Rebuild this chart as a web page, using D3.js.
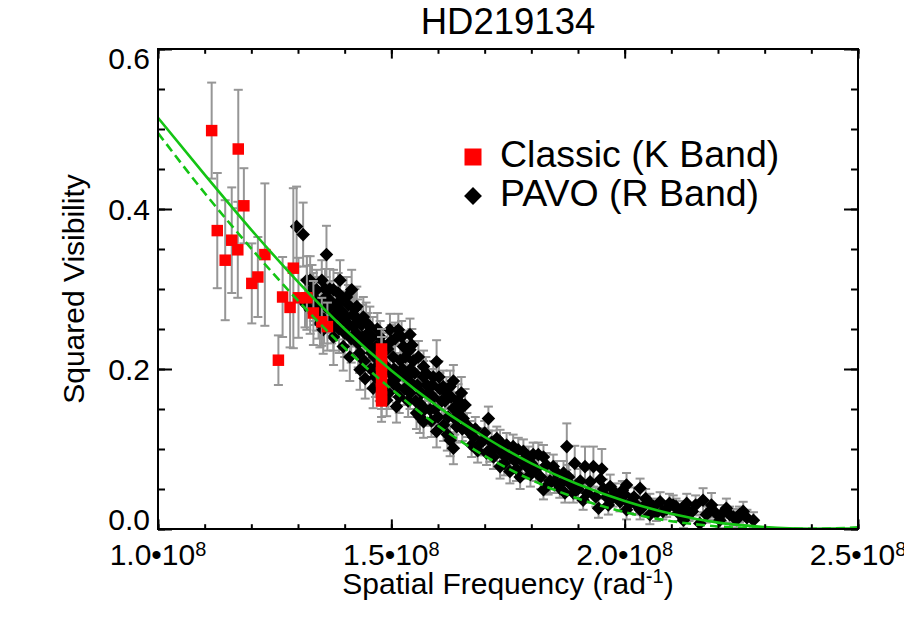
<!DOCTYPE html>
<html><head><meta charset="utf-8">
<script src="https://cdn.jsdelivr.net/npm/d3@7"></script>
<style>
body{margin:0;background:#fff}
svg{display:block}
text{font-family:"Liberation Sans",Arial,Helvetica,sans-serif;fill:#000}
</style>
</head><body>
<svg id="chart" width="904" height="629"></svg>
<script>
// ---------- data ----------
const titleText = "HD219134";
const xLabelMain = "Spatial Frequency (rad";
const xLabelSup = "-1";
const yLabelText = "Squared Visibility";
const xMajorTicks = [1.0, 1.5, 2.0, 2.5];          // units of 1e8 rad^-1
const xTickMantissa = ["1.0•10", "1.5•10", "2.0•10", "2.5•10"];
const xTickExponent = "8";
const yMajorTicks = [0.0, 0.2, 0.4, 0.6];
const yTickLabels = ["0.0", "0.2", "0.4", "0.6"];
const legendNames = ["Classic (K Band)", "PAVO (R Band)"];

// model curves
const modelFreq   = [1.0, 1.1, 1.2, 1.3, 1.4, 1.5, 1.6, 1.7, 1.8, 1.9, 2.0, 2.1, 2.2, 2.3, 2.4, 2.5];
const modelSolid  = [0.514, 0.443, 0.374, 0.309, 0.250, 0.198, 0.153, 0.115, 0.082, 0.056, 0.035, 0.019, 0.008, 0.0025, 0.0004, 0.0006];
const modelDashed = [0.495, 0.420, 0.3505, 0.2854, 0.2263, 0.175, 0.129, 0.0915, 0.0613, 0.038, 0.0211, 0.0098, 0.0032, 0.0003, 0.0002, 0.0020];

// Classic (K band): [freq (1e8), V2, error]
const classicPoints = [
  [1.115,0.498,0.060],[1.127,0.373,0.072],[1.144,0.336,0.075],[1.158,0.361,0.066],
  [1.171,0.349,0.060],[1.172,0.475,0.074],[1.184,0.404,0.047],[1.201,0.307,0.050],
  [1.214,0.315,0.050],[1.229,0.343,0.089],[1.258,0.211,0.031],[1.267,0.290,0.050],
  [1.283,0.277,0.050],[1.290,0.326,0.100],[1.301,0.289,0.050],[1.319,0.289,0.040],
  [1.333,0.270,0.040],[1.351,0.259,0.030],[1.363,0.253,0.030],
  [1.479,0.225,0.025],[1.479,0.215,0.025],[1.479,0.205,0.025],[1.479,0.195,0.025],
  [1.479,0.185,0.025],[1.479,0.175,0.025],[1.479,0.165,0.025],[1.479,0.160,0.026]
];

// PAVO (R band): [freq (1e8), V2, error]
const pavoPoints = [
  [1.297,0.378,0.050],[1.311,0.368,0.040],[1.315,0.282,0.030],[1.319,0.311,0.030],
  [1.326,0.311,0.030],[1.326,0.274,0.030],[1.330,0.300,0.030],[1.333,0.290,0.030],
  [1.336,0.285,0.030],[1.340,0.299,0.025],[1.340,0.278,0.030],[1.344,0.268,0.030],
  [1.347,0.257,0.030],[1.350,0.280,0.030],[1.351,0.311,0.025],[1.354,0.249,0.030],
  [1.356,0.262,0.030],[1.358,0.300,0.025],[1.360,0.290,0.025],[1.361,0.343,0.036],
  [1.364,0.275,0.030],[1.368,0.300,0.025],[1.370,0.285,0.025],[1.372,0.262,0.030],
  [1.376,0.299,0.025],[1.376,0.253,0.030],[1.376,0.240,0.035],[1.380,0.268,0.030],
  [1.383,0.278,0.025],[1.386,0.295,0.025],[1.388,0.250,0.030],[1.390,0.311,0.025],
  [1.390,0.285,0.025],[1.394,0.272,0.025],[1.397,0.228,0.030],[1.397,0.262,0.025],
  [1.400,0.245,0.030],[1.404,0.265,0.025],[1.404,0.290,0.025],[1.408,0.280,0.025],
  [1.410,0.255,0.025],[1.411,0.215,0.030],[1.414,0.238,0.030],[1.415,0.299,0.025],
  [1.418,0.268,0.025],[1.419,0.253,0.025],[1.422,0.275,0.025],[1.424,0.245,0.025],
  [1.426,0.278,0.025],[1.428,0.262,0.025],[1.429,0.232,0.030],[1.432,0.220,0.025],
  [1.433,0.199,0.025],[1.436,0.255,0.025],[1.438,0.240,0.025],[1.440,0.265,0.025],
  [1.442,0.210,0.025],[1.444,0.188,0.025],[1.446,0.258,0.025],[1.447,0.236,0.025],
  [1.450,0.245,0.025],[1.452,0.230,0.025],[1.454,0.253,0.025],[1.456,0.200,0.025],
  [1.458,0.220,0.025],[1.460,0.240,0.025],[1.461,0.176,0.025],[1.464,0.215,0.025],
  [1.466,0.190,0.025],[1.468,0.228,0.025],[1.470,0.250,0.020],[1.472,0.205,0.025],
  [1.474,0.185,0.025],[1.476,0.240,0.020],[1.478,0.215,0.020],[1.483,0.230,0.020],
  [1.486,0.205,0.020],[1.488,0.180,0.020],[1.490,0.161,0.020],[1.492,0.225,0.020],
  [1.494,0.170,0.020],[1.497,0.195,0.020],[1.497,0.249,0.020],[1.500,0.235,0.020],
  [1.502,0.185,0.020],[1.504,0.215,0.020],[1.506,0.200,0.020],[1.508,0.238,0.020],
  [1.511,0.178,0.020],[1.511,0.153,0.020],[1.514,0.190,0.020],[1.515,0.249,0.020],
  [1.517,0.165,0.020],[1.519,0.211,0.020],[1.522,0.240,0.020],[1.524,0.200,0.020],
  [1.526,0.228,0.020],[1.528,0.175,0.020],[1.530,0.215,0.020],[1.533,0.190,0.020],
  [1.536,0.160,0.020],[1.538,0.185,0.020],[1.540,0.243,0.020],[1.540,0.224,0.020],
  [1.540,0.199,0.020],[1.540,0.170,0.020],[1.544,0.230,0.020],[1.547,0.210,0.020],
  [1.550,0.195,0.020],[1.552,0.160,0.020],[1.554,0.145,0.020],[1.556,0.180,0.020],
  [1.558,0.215,0.020],[1.561,0.157,0.020],[1.561,0.140,0.020],[1.565,0.170,0.020],
  [1.569,0.190,0.020],[1.569,0.203,0.020],[1.569,0.134,0.020],[1.572,0.150,0.020],
  [1.574,0.195,0.020],[1.576,0.180,0.020],[1.580,0.170,0.020],[1.583,0.149,0.020],
  [1.586,0.135,0.020],[1.588,0.180,0.020],[1.590,0.165,0.020],[1.590,0.190,0.020],
  [1.594,0.150,0.020],[1.597,0.209,0.027],[1.597,0.122,0.020],[1.600,0.140,0.020],
  [1.602,0.190,0.020],[1.604,0.175,0.020],[1.608,0.160,0.020],[1.611,0.178,0.020],
  [1.612,0.130,0.020],[1.615,0.160,0.020],[1.618,0.170,0.020],[1.620,0.118,0.020],
  [1.622,0.140,0.020],[1.626,0.178,0.020],[1.626,0.111,0.020],[1.628,0.165,0.020],
  [1.633,0.185,0.020],[1.633,0.151,0.020],[1.633,0.101,0.020],[1.636,0.138,0.020],
  [1.640,0.128,0.020],[1.643,0.161,0.020],[1.645,0.148,0.020],[1.650,0.170,0.020],
  [1.652,0.125,0.015],[1.654,0.138,0.015],[1.658,0.155,0.020],[1.662,0.130,0.015],
  [1.669,0.120,0.015],[1.672,0.105,0.015],[1.676,0.115,0.015],[1.680,0.125,0.015],
  [1.685,0.098,0.015],[1.690,0.107,0.015],[1.697,0.111,0.015],[1.700,0.120,0.015],
  [1.704,0.095,0.015],[1.708,0.138,0.015],[1.711,0.099,0.015],[1.715,0.108,0.015],
  [1.719,0.090,0.015],[1.720,0.100,0.015],[1.726,0.113,0.015],[1.733,0.109,0.015],
  [1.733,0.078,0.015],[1.738,0.095,0.015],[1.742,0.082,0.015],[1.745,0.090,0.015],
  [1.747,0.105,0.015],[1.754,0.072,0.015],[1.756,0.092,0.015],[1.761,0.103,0.015],
  [1.765,0.085,0.015],[1.768,0.075,0.015],[1.772,0.099,0.015],[1.776,0.065,0.015],
  [1.780,0.085,0.015],[1.783,0.097,0.015],[1.790,0.078,0.015],[1.794,0.088,0.015],
  [1.798,0.068,0.015],[1.800,0.082,0.015],[1.804,0.093,0.015],[1.810,0.075,0.015],
  [1.815,0.093,0.015],[1.820,0.065,0.015],[1.826,0.090,0.015],[1.826,0.049,0.012],
  [1.832,0.080,0.015],[1.836,0.055,0.012],[1.840,0.060,0.015],[1.847,0.078,0.015],
  [1.850,0.060,0.015],[1.855,0.070,0.015],[1.861,0.051,0.012],[1.865,0.058,0.012],
  [1.869,0.070,0.015],[1.872,0.045,0.012],[1.876,0.103,0.029],[1.880,0.065,0.015],
  [1.885,0.055,0.012],[1.890,0.045,0.012],[1.893,0.082,0.022],[1.900,0.050,0.012],
  [1.905,0.060,0.015],[1.911,0.036,0.012],[1.915,0.078,0.025],[1.920,0.045,0.012],
  [1.926,0.059,0.015],[1.933,0.078,0.025],[1.938,0.040,0.012],[1.944,0.026,0.012],
  [1.948,0.062,0.015],[1.951,0.075,0.025],[1.955,0.050,0.012],[1.961,0.040,0.012],
  [1.965,0.030,0.012],[1.969,0.053,0.015],[1.975,0.040,0.012],[1.980,0.045,0.012],
  [1.990,0.034,0.012],[1.995,0.048,0.012],[2.000,0.043,0.015],[2.004,0.055,0.015],
  [2.004,0.024,0.012],[2.010,0.032,0.012],[2.020,0.040,0.012],[2.025,0.030,0.012],
  [2.033,0.051,0.012],[2.033,0.024,0.012],[2.040,0.028,0.012],[2.045,0.038,0.012],
  [2.054,0.032,0.012],[2.054,0.018,0.012],[2.062,0.028,0.010],[2.068,0.020,0.010],
  [2.076,0.034,0.012],[2.082,0.022,0.010],[2.090,0.025,0.010],[2.096,0.032,0.012],
  [2.104,0.030,0.012],[2.110,0.028,0.010],[2.115,0.020,0.010],[2.122,0.025,0.010],
  [2.126,0.011,0.010],[2.133,0.032,0.012],[2.138,0.020,0.010],[2.145,0.022,0.010],
  [2.152,0.030,0.012],[2.161,0.007,0.010],[2.168,0.036,0.015],[2.175,0.018,0.010],
  [2.182,0.022,0.010],[2.186,0.030,0.015],[2.195,0.020,0.010],[2.204,0.011,0.010],
  [2.210,0.020,0.010],[2.218,0.026,0.012],[2.225,0.018,0.010],[2.233,0.015,0.010],
  [2.240,0.012,0.010],[2.246,0.018,0.010],[2.254,0.022,0.012],[2.262,0.014,0.010],
  [2.276,0.011,0.010]
];

// ---------- layout ----------
const plot = {left: 158, right: 858, top: 49, bottom: 529};
const pw = plot.right - plot.left, ph = plot.bottom - plot.top;
const svg = d3.select("#chart");

const x = d3.scaleLinear().domain([1.0, 2.5]).range([plot.left, plot.right]);
const y = d3.scaleLinear().domain([0.0, 0.6]).range([plot.bottom, plot.top]);

const gray = "#969696", green = "#14c414";
const xMinor = d3.range(1.0, 2.5001, 0.1).map(v => +v.toFixed(2));
const yMinor = d3.range(0.0, 0.6001, 0.05).map(v => +v.toFixed(3));
const xTL = 0.02 * ph, yTL = 0.02 * pw;

// ---------- data layers ----------
function errorBars(g, pts, cap) {
  const sel = g.selectAll("g").data(pts).join("g");
  sel.append("line")
    .attr("x1", d => x(d[0])).attr("x2", d => x(d[0]))
    .attr("y1", d => y(d[1] - d[2])).attr("y2", d => y(d[1] + d[2]));
  sel.append("line")
    .attr("x1", d => x(d[0]) - cap).attr("x2", d => x(d[0]) + cap)
    .attr("y1", d => y(d[1] + d[2])).attr("y2", d => y(d[1] + d[2]));
  sel.append("line")
    .attr("x1", d => x(d[0]) - cap).attr("x2", d => x(d[0]) + cap)
    .attr("y1", d => y(d[1] - d[2])).attr("y2", d => y(d[1] - d[2]));
}

svg.append("defs").append("clipPath").attr("id", "pc")
  .append("rect").attr("x", plot.left).attr("y", plot.top).attr("width", pw).attr("height", ph);

const dataG = svg.append("g").attr("clip-path", "url(#pc)");

const pavoErrG = dataG.append("g").attr("stroke", gray).attr("stroke-width", 2);
errorBars(pavoErrG, pavoPoints, 4.5);

const diamond = d3.symbol().type(d3.symbolSquare).size(92);
dataG.append("g").selectAll("path").data(pavoPoints).join("path")
  .attr("d", diamond)
  .attr("transform", d => `translate(${x(d[0])},${y(d[1])}) rotate(45)`)
  .attr("fill", "#000");

const clErrG = dataG.append("g").attr("stroke", gray).attr("stroke-width", 2);
errorBars(clErrG, classicPoints, 4.5);

const square = d3.symbol().type(d3.symbolSquare).size(132);
dataG.append("g").selectAll("path").data(classicPoints).join("path")
  .attr("d", square)
  .attr("transform", d => `translate(${x(d[0])},${y(d[1])})`)
  .attr("fill", "#ff0000");

const line = d3.line().x((d, i) => x(modelFreq[i])).y(d => y(d)).curve(d3.curveMonotoneX);
dataG.append("path").datum(modelDashed).attr("d", line)
  .attr("fill", "none").attr("stroke", green).attr("stroke-width", 2.6)
  .attr("stroke-dasharray", "9,5");
dataG.append("path").datum(modelSolid).attr("d", line)
  .attr("fill", "none").attr("stroke", green).attr("stroke-width", 2.6);

// ---------- axes ----------
function styleAxis(g) {
  g.select(".domain").remove();
  g.selectAll("line").attr("stroke", "#000").attr("stroke-width", 2);
  g.selectAll("text").remove();
}
svg.append("g").attr("transform", `translate(0,${plot.bottom})`)
  .call(d3.axisBottom(x).tickValues(xMinor).tickSize(-xTL / 2).tickSizeOuter(0)).call(styleAxis);
svg.append("g").attr("transform", `translate(0,${plot.bottom})`)
  .call(d3.axisBottom(x).tickValues(xMajorTicks).tickSize(-xTL).tickSizeOuter(0)).call(styleAxis);
svg.append("g").attr("transform", `translate(0,${plot.top})`)
  .call(d3.axisTop(x).tickValues(xMinor).tickSize(-xTL / 2).tickSizeOuter(0)).call(styleAxis);
svg.append("g").attr("transform", `translate(0,${plot.top})`)
  .call(d3.axisTop(x).tickValues(xMajorTicks).tickSize(-xTL).tickSizeOuter(0)).call(styleAxis);
svg.append("g").attr("transform", `translate(${plot.left},0)`)
  .call(d3.axisLeft(y).tickValues(yMinor).tickSize(-yTL / 2).tickSizeOuter(0)).call(styleAxis);
svg.append("g").attr("transform", `translate(${plot.left},0)`)
  .call(d3.axisLeft(y).tickValues(yMajorTicks).tickSize(-yTL).tickSizeOuter(0)).call(styleAxis);
svg.append("g").attr("transform", `translate(${plot.right},0)`)
  .call(d3.axisRight(y).tickValues(yMinor).tickSize(-yTL / 2).tickSizeOuter(0)).call(styleAxis);
svg.append("g").attr("transform", `translate(${plot.right},0)`)
  .call(d3.axisRight(y).tickValues(yMajorTicks).tickSize(-yTL).tickSizeOuter(0)).call(styleAxis);

svg.append("rect").attr("x", plot.left).attr("y", plot.top).attr("width", pw).attr("height", ph)
  .attr("fill", "none").attr("stroke", "#000").attr("stroke-width", 2);

// tick labels
const xt = svg.append("g").selectAll("text").data(xMajorTicks).join("text")
  .attr("x", d => x(d)).attr("y", 565).attr("text-anchor", "middle").attr("font-size", 30);
xt.append("tspan").text((d, i) => xTickMantissa[i]);
xt.append("tspan").attr("font-size", 20).attr("dy", -9).text(xTickExponent);

svg.append("g").selectAll("text").data(yMajorTicks).join("text")
  .attr("x", 150)
  .attr("y", (d, i) => y(d) + (i === 0 ? 1 : (i === yMajorTicks.length - 1 ? 20 : 11)))
  .attr("text-anchor", "end").attr("font-size", 30)
  .text((d, i) => yTickLabels[i]);

// titles
svg.append("text").attr("x", (plot.left + plot.right) / 2).attr("y", 34)
  .attr("text-anchor", "middle").attr("font-size", 36.5).text(titleText);

const xl = svg.append("text").attr("x", (plot.left + plot.right) / 2).attr("y", 594)
  .attr("text-anchor", "middle").attr("font-size", 30);
xl.append("tspan").text(xLabelMain);
xl.append("tspan").attr("font-size", 20).attr("dy", -11).text(xLabelSup);
xl.append("tspan").attr("dy", 11).text(")");

svg.append("text").attr("transform", `translate(84,${(plot.top + plot.bottom) / 2}) rotate(-90)`)
  .attr("text-anchor", "middle").attr("font-size", 30).text(yLabelText);

// legend
const lg = svg.append("g");
lg.append("rect").attr("x", 473 - 8.5).attr("y", 157 - 8.5).attr("width", 17).attr("height", 17).attr("fill", "#ff0000");
lg.append("path").attr("d", d3.symbol().type(d3.symbolSquare).size(160))
  .attr("transform", "translate(473,196) rotate(45)").attr("fill", "#000");
lg.append("text").attr("x", 500).attr("y", 167).attr("font-size", 37.5).text(legendNames[0]);
lg.append("text").attr("x", 500).attr("y", 206).attr("font-size", 37.5).text(legendNames[1]);
</script>
</body></html>
